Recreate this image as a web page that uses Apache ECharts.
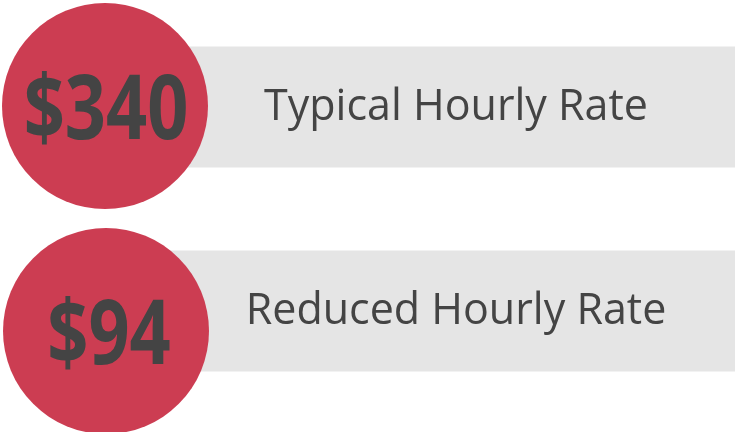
<!DOCTYPE html>
<html>
<head>
<meta charset="utf-8">
<script src="https://cdn.jsdelivr.net/npm/echarts@6/dist/echarts.min.js"></script>
<style>
  html, body { margin: 0; padding: 0; background: #fff; }
  #chart { width: 735px; height: 432px; }
</style>
</head>
<body>
<div id="chart"></div>
<script>
// 类别与数值
const categories = ["Typical Hourly Rate", "Reduced Hourly Rate"];
const rates = ["$340", "$94"];
const barStart = [105, 105];
const barLength = [630, 630];
const circleX = [105, 106];
const circleShift = [-1, 20];

var myChart = echarts.init(document.getElementById("chart"));
var option = {
  animation: false,
  grid: { left: 0, right: 0, top: 5, bottom: 19 },
  xAxis: { type: "value", min: 0, max: 735, show: false },
  yAxis: { type: "category", data: categories, inverse: true, show: false },
  series: [
    {
      type: "bar",
      stack: "row",
      data: barStart,
      barWidth: 121,
      itemStyle: { color: "transparent" },
      silent: true,
    },
    {
      type: "bar",
      stack: "row",
      data: barLength,
      barWidth: 121,
      itemStyle: { color: "#e5e5e5" },
      label: {
        show: true,
        position: "inside",
        offset: [36, 1],
        formatter: function (p) { return categories[p.dataIndex]; },
        color: "#444",
        fontFamily: "Open Sans",
        fontSize: 43,
      },
    },
    {
      type: "scatter",
      data: circleX.map(function (x, i) {
        return { value: [x, categories[i]], symbolOffset: [0, circleShift[i]] };
      }),
      symbol: "circle",
      symbolSize: 206,
      itemStyle: { color: "#cc3d52", opacity: 1 },
      z: 3,
    },
    {
      // 圆内的金额，窄体效果用 scaleX 模拟
      type: "custom",
      z: 4,
      data: circleX.map(function (x, i) { return [x, i]; }),
      renderItem: function (params, api) {
        var i = params.dataIndex;
        var pt = api.coord([api.value(0), categories[i]]);
        return {
          type: "text",
          x: pt[0] + (i === 0 ? 1 : 3),
          y: pt[1] + circleShift[i] + 7,
          scaleX: 0.8,
          style: {
            text: rates[i],
            fill: "#444",
            font: "bold 90px 'Open Sans'",
            align: "center",
            verticalAlign: "middle",
          },
        };
      },
    },
  ],
};
myChart.setOption(option);
</script>
</body>
</html>
